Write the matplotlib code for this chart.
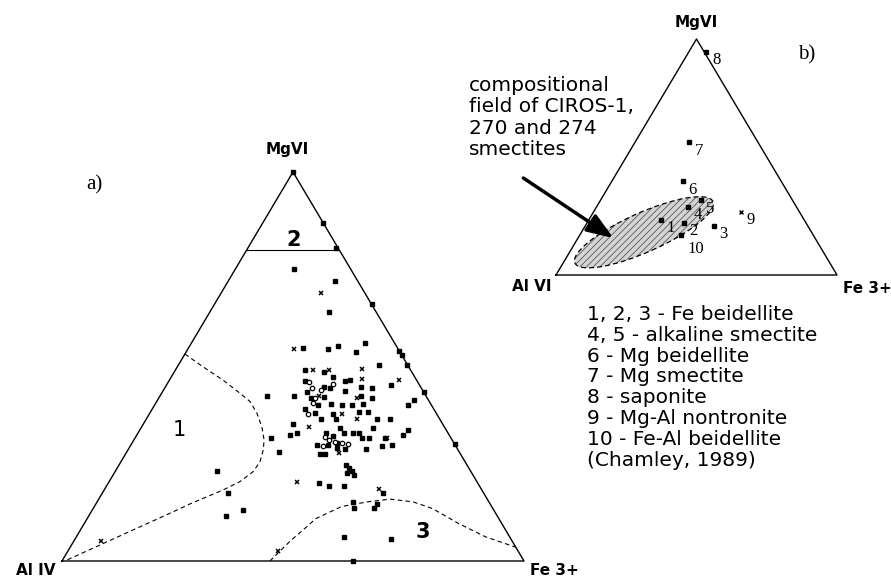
import numpy as np
import matplotlib.pyplot as plt
from matplotlib.patches import Ellipse

plt.rcParams["font.family"] = ["DejaVu Sans"]
plt.rcParams["hatch.linewidth"] = 0.6

# =========================================================
# DATA  (ternary compositions in %, Al = 100 - Mg - Fe)
# =========================================================

# a) smectite analyses - filled squares
mg_sq = [100, 87, 80.5, 66, 54, 53, 50.5, 43.5, 30, 0,
         75.1, 72.0, 63.9,
         54.8, 54.6, 55.2, 56.1, 53.6, 50.5, 45.2, 41.3, 40.1, 33.8, 32.3, 31.7, 29.8,
         42.5, 42.5, 31.7, 32.3, 28.0, 23.2, 17.6, 11.6, 13.0,
         20.0, 19.2, 19.2, 17.6, 14.6, 15.2, 13.5, 13.5, 6.2, 5.6,
         49.2, 48.6, 47.3, 46.3, 46.2, 46.5, 44.8, 44.6, 44.7, 44.4, 43.5, 41.8,
         42.2, 43.7, 42.5, 40.2, 40.3, 40.1, 40.1, 40.3, 42.0, 39.2, 38.1, 37.9,
         38.2, 38.2, 35.1, 32.9, 36.6, 36.4, 36.4, 36.4, 34.3, 32.8, 32.8, 34.2,
         32.8, 32.1, 30.4, 32.8, 31.7, 31.5, 29.8, 29.8, 27.4, 27.6, 29.1, 28.9,
         28.9, 29.5, 24.6, 23.8, 23.1, 22.0, 22.6]
fe_sq = [0, 13, 19, 34, 46, 47, 49.5, 56.5, 70, 63,
         12.6, 23.0, 25.8,
         24.8, 30.2, 32.2, 37.6, 36.9, 43.4, 48.7, 55.5, 54.9, 58.0, 57.6, 54.1, 56.6,
         23.1, 28.9, 29.4, 33.1, 33.0, 22.0, 27.2, 29.6, 32.7,
         45.7, 48.3, 51.5, 60.6, 60.8, 55.3, 56.4, 60.8, 58.0, 68.4,
         28.1, 32.5, 34.9, 29.4, 38.2, 39.1, 34.3, 35.7, 42.3, 44.9, 31.3, 32.9,
         35.7, 39.5, 43.4, 35.4, 38.1, 40.5, 42.7, 44.9, 46.0, 33.0, 35.8, 39.7,
         45.2, 47.2, 32.4, 34.5, 37.7, 41.0, 50.0, 52.7, 43.1, 46.5, 47.8, 50.2,
         40.8, 42.6, 44.3, 44.7, 49.0, 50.7, 40.2, 42.7, 42.2, 43.1, 44.9, 46.9,
         51.4, 54.6, 49.2, 50.3, 51.2, 52.3, 50.4]

# a) smectite analyses - crosses
mg_x = [69.0, 54.4, 49.3, 46.5, 31.7, 5.1, 20.2, 18.4, 2.5,
        49.1, 49.2, 42.4, 41.8, 37.9, 34.5, 36.4, 27.8, 46.9]
fe_x = [21.5, 23.1, 40.2, 49.7, 54.6, 5.8, 40.8, 59.5, 45.5,
        29.8, 33.3, 34.4, 42.9, 41.7, 36.2, 45.6, 46.1, 41.4]

# a) smectite analyses - open circles
mg_o = [46.0, 44.6, 42.0, 40.5, 37.9, 31.9, 31.0, 30.6, 30.4, 30.2, 29.5, 45.6, 43.9]
fe_o = [30.5, 31.8, 33.7, 34.1, 34.3, 41.0, 42.3, 43.7, 45.3, 46.7, 41.8, 35.8, 34.2]

# a) compositional fields
field1_mg = [53.2, 49.9, 46.5, 43.1, 41.0, 38.0, 34.5, 31.1, 28.5, 25.5, 23.0,
             20.4, 18.3, 16.5, 14.7, 12.7, 10.7, 8.8, 0]
field1_fe = [0, 5.6, 11.6, 17.0, 20.2, 23.2, 26.0, 28.2, 29.3, 30.1, 29.9,
             28.3, 25.8, 23.1, 20.4, 17.8, 15.1, 12.5, 0.6]
field2_mg = 80
field3_mg = [0, 5.3, 8.0, 10.9, 14.0, 15.2, 15.9, 15.2, 13.5, 9.6, 6.2, 3.6]
field3_fe = [45, 46.9, 48.2, 49.5, 53.5, 58.5, 63.1, 68.4, 73.4, 81.1, 88.6, 96.3]

# b) reference smectites (Chamley, 1989)
ref_labels = ["1", "2", "3", "4", "5", "6", "7", "8", "9", "10"]
ref_mg = [23.4, 22.0, 20.9, 28.8, 31.6, 39.7, 56.2, 94.5, 26.7, 17.1]
ref_fe = [25.6, 34.5, 45.7, 32.6, 35.7, 25.2, 19.2, 6.3, 52.4, 36.1]

legend_lines = [
    "1, 2, 3 - Fe beidellite",
    "4, 5 - alkaline smectite",
    "6 - Mg beidellite",
    "7 - Mg smectite",
    "8 - saponite",
    "9 - Mg-Al nontronite",
    "10 - Fe-Al beidellite",
    "(Chamley, 1989)",
]


def tern(mg, fe, h):
    mg = np.asarray(mg, dtype=float) / 100
    fe = np.asarray(fe, dtype=float) / 100
    return fe + mg / 2, mg * h


def draw_triangle(ax, h):
    x, y = tern([0, 0, 100, 0], [0, 100, 0, 0], h)
    ax.plot(x, y, color="black", lw=1.0, clip_on=False)
    ax.set_xlim(0, 1)
    ax.set_ylim(0, h)
    ax.set_aspect("equal")
    ax.axis("off")


# =========================================================
# FIGURE
# =========================================================

fig = plt.figure(figsize=(8.91, 5.80), dpi=100)

# ---------------- a) ----------------
H1 = 389 / 462
ax1 = fig.add_axes([62 / 891, 19 / 580, 462 / 891, 389 / 580])
draw_triangle(ax1, H1)

x, y = tern([field2_mg, field2_mg], [0, 100 - field2_mg], H1)
ax1.plot(x, y, color="black", lw=0.8)

for mg, fe in [(field1_mg, field1_fe), (field3_mg, field3_fe)]:
    x, y = tern(mg, fe, H1)
    ax1.plot(x, y, color="black", lw=0.8, ls=(0, (4, 3)))

x, y = tern(mg_sq, fe_sq, H1)
ax1.plot(x, y, "s", color="black", ms=2.9, clip_on=False)
x, y = tern(mg_x, fe_x, H1)
ax1.plot(x, y, "x", color="black", ms=3.5, mew=1.1, clip_on=False)
x, y = tern(mg_o, fe_o, H1)
ax1.plot(x, y, "o", color="black", mfc="white", ms=3.2, mew=0.9, clip_on=False)

for lab, mg, fe, w in [("1", 33.7, 8.6, "normal"), ("2", 82.5, 8.8, "bold"),
                       ("3", 7.5, 74.3, "bold")]:
    x, y = tern(mg, fe, H1)
    ax1.text(x, y, lab, fontsize=15, fontweight=w, ha="center", va="center")

vx, vy = tern([100, 0, 0], [0, 0, 100], H1)
ax1.annotate("MgVI", (vx[0], vy[0]), xytext=(-4, 16), textcoords="offset points",
             ha="center", va="center", fontsize=11, fontweight="bold",
             annotation_clip=False)
ax1.annotate("Al IV", (vx[1], vy[1]), xytext=(-5, -7), textcoords="offset points",
             ha="right", va="center", fontsize=11, fontweight="bold",
             annotation_clip=False)
ax1.annotate("Fe 3+", (vx[2], vy[2]), xytext=(4, -7), textcoords="offset points",
             ha="left", va="center", fontsize=11, fontweight="bold",
             annotation_clip=False)

fig.text(94 / 891, 1 - 185 / 580, "a)", family="Liberation Serif", fontsize=15,
         ha="center", va="center")

# ---------------- b) ----------------
H2 = 236 / 281
ax2 = fig.add_axes([556 / 891, 305 / 580, 281 / 891, 236 / 580])
draw_triangle(ax2, H2)

ax2.add_patch(Ellipse((0.313, 0.152), 0.538, 0.14, angle=24, facecolor="#d4d4d4",
                      edgecolor="#5a5a5a", hatch="/////", lw=0, clip_on=False))
ax2.add_patch(Ellipse((0.313, 0.152), 0.538, 0.14, angle=24, fill=False,
                      edgecolor="black", lw=0.9, ls=(0, (4, 2.5)), clip_on=False))

x, y = tern(ref_mg, ref_fe, H2)
for lab, xi, yi in zip(ref_labels, x, y):
    if lab == "9":
        ax2.plot(xi, yi, "x", color="black", ms=3, mew=1.0)
    else:
        ax2.plot(xi, yi, "s", color="black", ms=2.5)
    dy = -10 if lab == "10" else -6
    ax2.annotate(lab, (xi, yi), xytext=(4, dy), textcoords="offset points",
                 ha="left", va="center", family="Liberation Serif", fontsize=12)

ax2.annotate("", xy=(0.204, 0.1315), xytext=(-0.116, 0.345),
             arrowprops=dict(arrowstyle="-|>,head_length=0.8,head_width=0.3",
                             color="black", lw=2.5, mutation_scale=20,
                             shrinkA=0, shrinkB=0),
             annotation_clip=False)

vx, vy = tern([100, 0, 0], [0, 0, 100], H2)
ax2.annotate("MgVI", (vx[0], vy[0]), xytext=(0, 12), textcoords="offset points",
             ha="center", va="center", fontsize=11, fontweight="bold",
             annotation_clip=False)
ax2.annotate("Al VI", (vx[1], vy[1]), xytext=(-3, -8), textcoords="offset points",
             ha="right", va="center", fontsize=11, fontweight="bold",
             annotation_clip=False)
ax2.annotate("Fe 3+", (vx[2], vy[2]), xytext=(4, -10), textcoords="offset points",
             ha="left", va="center", fontsize=11, fontweight="bold",
             annotation_clip=False)

fig.text(807 / 891, 1 - 55 / 580, "b)", family="Liberation Serif", fontsize=15,
         ha="center", va="center")

fig.text(469 / 891, 1 - 76 / 580,
         "compositional\nfield of CIROS-1,\n270 and 274\nsmectites",
         fontsize=14.5, ha="left", va="top", linespacing=1.15)

fig.text(587 / 891, 1 - 305 / 580, "\n".join(legend_lines),
         fontsize=14.5, ha="left", va="top", linespacing=1.12)

fig.savefig("out.png", dpi=100)
